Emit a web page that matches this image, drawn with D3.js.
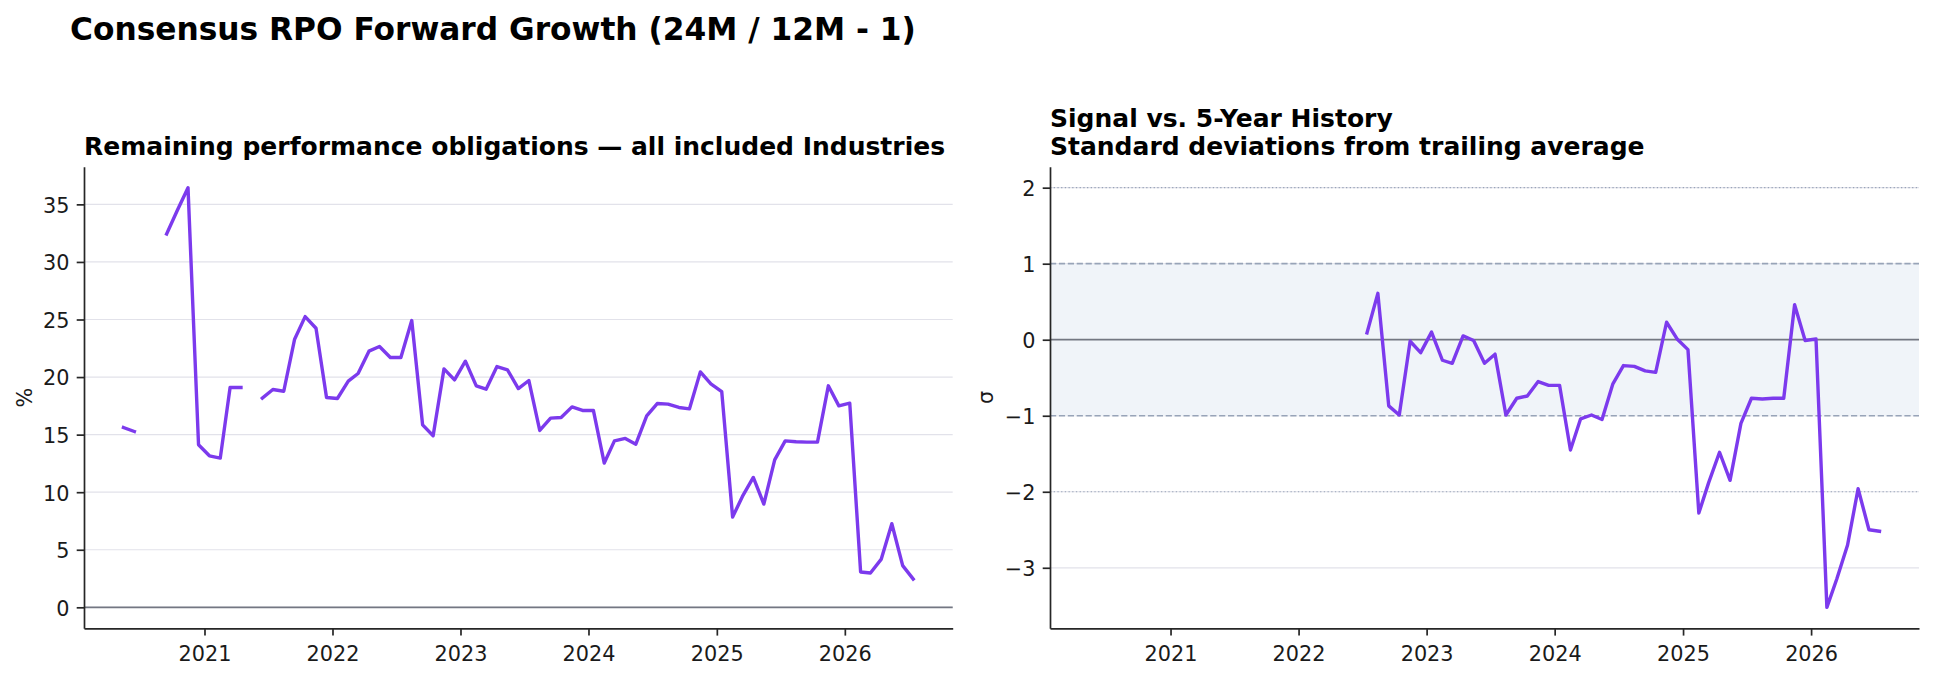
<!DOCTYPE html>
<html>
<head>
<meta charset="utf-8">
<script src="https://cdn.jsdelivr.net/npm/d3@7"></script>
<style>
    body { margin: 0; background: #ffffff; }
    svg { display: block; font-family: "DejaVu Sans", sans-serif; }
</style>
</head>
<body>
<svg id="chart"></svg>
<script>
// Monthly observations (plotted mid-month)
const months = [
    "2020-05", "2020-06", "2020-07", "2020-08", "2020-09", "2020-10", "2020-11", "2020-12",
    "2021-01", "2021-02", "2021-03", "2021-04", "2021-05", "2021-06", "2021-07", "2021-08",
    "2021-09", "2021-10", "2021-11", "2021-12", "2022-01", "2022-02", "2022-03", "2022-04",
    "2022-05", "2022-06", "2022-07", "2022-08", "2022-09", "2022-10", "2022-11", "2022-12",
    "2023-01", "2023-02", "2023-03", "2023-04", "2023-05", "2023-06", "2023-07", "2023-08",
    "2023-09", "2023-10", "2023-11", "2023-12", "2024-01", "2024-02", "2024-03", "2024-04",
    "2024-05", "2024-06", "2024-07", "2024-08", "2024-09", "2024-10", "2024-11", "2024-12",
    "2025-01", "2025-02", "2025-03", "2025-04", "2025-05", "2025-06", "2025-07", "2025-08",
    "2025-09", "2025-10", "2025-11", "2025-12", "2026-01", "2026-02", "2026-03", "2026-04",
    "2026-05", "2026-06", "2026-07"
];

// RPO forward growth, % (null = no value that month)
const rpoGrowth = [
    15.62, 15.27, null, null, 32.43, 34.45, 36.45, 14.12,
    13.16, 12.96, 19.09, 19.09, null, 18.17, 18.92, 18.77,
    23.29, 25.25, 24.24, 18.22, 18.14, 19.64, 20.31, 22.25,
    22.65, 21.70, 21.70, 24.91, 15.85, 14.90, 20.71, 19.76,
    21.38, 19.24, 18.95, 20.91, 20.63, 19.00, 19.70, 15.36,
    16.43, 16.49, 17.41, 17.10, 17.10, 12.53, 14.46, 14.67,
    14.17, 16.63, 17.70, 17.65, 17.36, 17.24, 20.45, 19.41,
    18.74, 7.84, 9.63, 11.28, 8.97, 12.81, 14.46, 14.38,
    14.35, 14.35, 19.24, 17.50, 17.73, 3.07, 2.98, 4.19,
    7.26, 3.62, 2.46
];

// Standard deviations from trailing 5-year average
const sigmaScore = [
    null, null, null, null, null, null, null, null,
    null, null, null, null, null, null, null, null,
    null, null, null, null, null, null, null, null,
    null, null, 0.09, 0.61, -0.87, -0.99, -0.02, -0.17,
    0.10, -0.27, -0.31, 0.05, -0.01, -0.31, -0.19, -0.99,
    -0.77, -0.74, -0.55, -0.60, -0.60, -1.45, -1.04, -0.99,
    -1.05, -0.58, -0.34, -0.35, -0.41, -0.43, 0.23, 0.01,
    -0.13, -2.28, -1.88, -1.48, -1.85, -1.10, -0.77, -0.78,
    -0.77, -0.77, 0.46, -0.01, 0.01, -3.52, -3.15, -2.70,
    -1.96, -2.50, -2.52
];

const yearTicks = ["2021", "2022", "2023", "2024", "2025", "2026"];
const pctTicks = [0, 5, 10, 15, 20, 25, 30, 35];
const sigmaTicks = [-3, -2, -1, 0, 1, 2];
const bandLimits = [-1, 1];
const dottedLevels = [-2, 2];

// figure geometry
const W = 1934, H = 679;
const TOP = 166.7, BOTTOM = 628.3;
const TICK_FONT = 20.8;
const LINE_COLOR = '#7c3aed';

const svg = d3.select('#chart').attr('width', W).attr('height', H);

const parseDay = d3.timeParse('%Y-%m-%d');
const dates = months.map(m => parseDay(m + '-15'));

// matplotlib style 5% margins on the x range
const span = dates[dates.length - 1] - dates[0];
const xDomain = [new Date(+dates[0] - span * 0.05), new Date(+dates[dates.length - 1] + span * 0.05)];

function padded(lo, hi) {
    let pad = (hi - lo) * 0.05;
    return [lo - pad, hi + pad];
}

svg.append('text')
    .attr('x', 70)
    .attr('y', 39.5)
    .attr('font-size', 31.25)
    .attr('font-weight', 'bold')
    .attr('fill', '#000')
    .text('Consensus RPO Forward Growth (24M / 12M - 1)');

function drawPanel(cfg) {
    let g = svg.append('g');

    let x = d3.scaleTime()
        .domain(xDomain)
        .range([cfg.left, cfg.right]);
    let y = d3.scaleLinear()
        .domain(cfg.yDomain)
        .range([BOTTOM, TOP]);

    // horizontal grid
    g.append('g')
        .selectAll('line')
        .data(cfg.yTicks)
        .join('line')
        .attr('x1', cfg.left)
        .attr('x2', cfg.right)
        .attr('y1', d => y(d))
        .attr('y2', d => y(d))
        .attr('stroke', '#e2e2ea')
        .attr('stroke-width', 1.2);

    if (cfg.extras) cfg.extras(g, x, y);

    // zero line
    g.append('line')
        .attr('x1', cfg.left)
        .attr('x2', cfg.right)
        .attr('y1', y(0))
        .attr('y2', y(0))
        .attr('stroke', '#737782')
        .attr('stroke-width', 1.7);

    let series = dates.map((d, i) => ({ date: d, v: cfg.values[i] }));
    let line = d3.line()
        .defined(d => d.v !== null)
        .x(d => x(d.date))
        .y(d => y(d.v));

    g.append('path')
        .datum(series)
        .attr('d', line)
        .attr('fill', 'none')
        .attr('stroke', LINE_COLOR)
        .attr('stroke-width', 3.4)
        .attr('stroke-linejoin', 'round')
        .attr('stroke-linecap', 'square');

    // axes
    let yAxis = d3.axisLeft(y)
        .tickValues(cfg.yTicks)
        .tickFormat(d3.format('d'))
        .tickSize(7.3)
        .tickSizeOuter(0)
        .tickPadding(7.3);
    let xAxis = d3.axisBottom(x)
        .tickValues(yearTicks.map(yr => parseDay(yr + '-01-01')))
        .tickFormat(d3.timeFormat('%Y'))
        .tickSize(7.3)
        .tickSizeOuter(0)
        .tickPadding(10.6);

    let ya = g.append('g').attr('transform', `translate(${cfg.left},0)`).call(yAxis);
    let xa = g.append('g').attr('transform', `translate(0,${BOTTOM})`).call(xAxis);

    [ya, xa].forEach(a => {
        a.select('.domain').attr('stroke', '#262626').attr('stroke-width', 1.7);
        a.selectAll('.tick line').attr('stroke', '#262626').attr('stroke-width', 1.7);
        a.selectAll('.tick text')
            .attr('fill', '#1a1a1a')
            .attr('font-size', TICK_FONT)
            .attr('font-family', '"DejaVu Sans", sans-serif');
    });
    ya.selectAll('.tick text').attr('dy', '0.38em');

    // axis label
    g.append('text')
        .attr('transform', `translate(${cfg.labelX},${(TOP + BOTTOM) / 2}) rotate(-90)`)
        .attr('text-anchor', 'middle')
        .attr('font-size', TICK_FONT)
        .attr('fill', '#1a1a1a')
        .text(cfg.yLabel);

    // title, last line sits just above the axes
    cfg.title.forEach((t, i) => {
        g.append('text')
            .attr('x', cfg.left)
            .attr('y', 154.5 - (cfg.title.length - 1 - i) * 27.5)
            .attr('font-size', 25)
            .attr('font-weight', 'bold')
            .attr('fill', '#000')
            .text(t);
    });
}

// Left: raw growth
drawPanel({
    left: 84,
    right: 952.7,
    values: rpoGrowth,
    yDomain: padded(Math.min(0, d3.min(rpoGrowth)), d3.max(rpoGrowth)),
    yTicks: pctTicks,
    yLabel: '%',
    labelX: 31.7,
    title: ['Remaining performance obligations \u2014 all included Industries']
});

// Right: z-score vs 5 year history
drawPanel({
    left: 1050,
    right: 1919,
    values: sigmaScore,
    yDomain: padded(Math.min(dottedLevels[0], d3.min(sigmaScore)), Math.max(dottedLevels[1], d3.max(sigmaScore))),
    yTicks: sigmaTicks,
    yLabel: '\u03c3',
    labelX: 993.3,
    title: ['Signal vs. 5-Year History', 'Standard deviations from trailing average'],
    extras: function (g, x, y) {
        let [x0, x1] = x.range();
        g.append('rect')
            .attr('x', x0)
            .attr('width', x1 - x0)
            .attr('y', y(bandLimits[1]))
            .attr('height', y(bandLimits[0]) - y(bandLimits[1]))
            .attr('fill', '#f0f4f9');
        g.append('g')
            .selectAll('line')
            .data(bandLimits)
            .join('line')
            .attr('x1', x0).attr('x2', x1)
            .attr('y1', d => y(d)).attr('y2', d => y(d))
            .attr('stroke', '#98a4b8')
            .attr('stroke-width', 1.7)
            .attr('stroke-dasharray', '6.2 2.7');
        g.append('g')
            .selectAll('line')
            .data(dottedLevels)
            .join('line')
            .attr('x1', x0).attr('x2', x1)
            .attr('y1', d => y(d)).attr('y2', d => y(d))
            .attr('stroke', '#98a4b8')
            .attr('stroke-width', 1.2)
            .attr('stroke-dasharray', '1.3 2.4');
    }
});
</script>
</body>
</html>
